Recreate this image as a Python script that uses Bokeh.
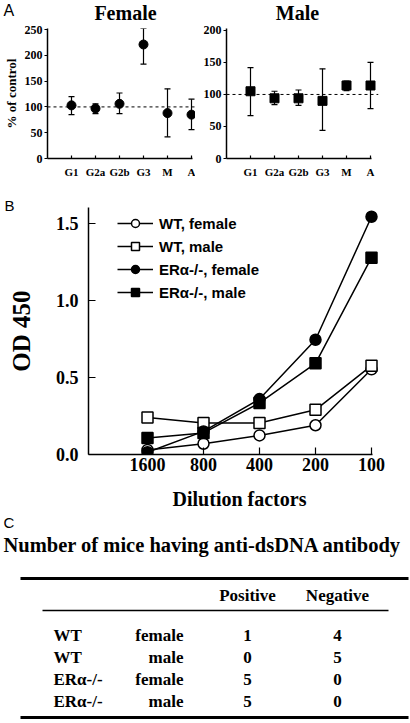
import numpy as np
from bokeh.plotting import figure
from bokeh.models import (Range1d, Span, Whisker, TeeHead, ColumnDataSource, Title,
                          Legend, LegendItem, FixedTicker, NumeralTickFormatter)
from bokeh.layouts import column, row
from bokeh.embed import file_html
from bokeh.resources import INLINE
from bokeh.core.properties import value

SERIF = "Liberation Serif"
SANS = "Liberation Sans"

# ---------------- data ----------------
# Panel A: % of control by isotype
isotypes = ["G1", "G2a", "G2b", "G3", "M", "A"]
female_mean = [103, 97, 106, 221, 88, 85]
female_low = [85, 87, 87, 183, 42, 56]
female_high = [120, 106, 127, 252, 135, 115]
male_mean = [105, 94, 94, 90, 114, 114]
male_low = [67, 84, 83, 44, 106, 78]
male_high = [142, 105, 107, 140, 121, 150]
female_yticks = [0, 50, 100, 150, 200, 250]
male_yticks = [0, 50, 100, 150, 200]
panel_titles = ["A", "Female", "Male"]

# Panel B: OD 450 by dilution factor
dilutions = ["1600", "800", "400", "200", "100"]
wt_female = [0.03, 0.07, 0.124, 0.19, 0.553]
wt_male = [0.24, 0.205, 0.205, 0.29, 0.577]
ko_female = [0.015, 0.15, 0.36, 0.745, 1.544]
ko_male = [0.107, 0.14, 0.335, 0.592, 1.278]
od_ticks = [0.0, 0.5, 1.0, 1.5]

# Panel C: table
table_title = "Number of mice having anti-dsDNA antibody"
table_headers = ["Positive", "Negative"]
genotypes = ["WT", "WT", "ERα-/-", "ERα-/-"]
sexes = ["female", "male", "female", "male"]
positive = [1, 0, 5, 5]
negative = [4, 5, 0, 0]

TOTAL_W = 410


def style_axis(ax, size, tick_in=0, tick_out=3, standoff=2):
    ax.axis_line_width = 1.5
    ax.axis_line_color = "black"
    ax.major_tick_line_width = 1.2
    ax.major_tick_line_color = "black"
    ax.major_tick_in = tick_in
    ax.major_tick_out = tick_out
    ax.minor_tick_line_color = None
    ax.major_label_text_font = SERIF
    ax.major_label_text_font_style = "bold"
    ax.major_label_text_font_size = size
    ax.major_label_text_color = "black"
    ax.major_label_standoff = standoff
    ax.axis_label_text_color = "black"
    ax.axis_label_text_font = SERIF
    ax.axis_label_text_font_style = "bold"


def base_fig(width, height, xr, yr, left, right, top, bottom, axes=True):
    kw = {} if axes else dict(x_axis_type=None, y_axis_type=None)
    p = figure(width=width, height=height, x_range=xr, y_range=yr,
               output_backend="svg", toolbar_location=None,
               min_border_left=left, min_border_right=right,
               min_border_top=top, min_border_bottom=bottom, **kw)
    p.outline_line_color = None
    p.xgrid.visible = False
    p.ygrid.visible = False
    p.background_fill_color = "white"
    p.border_fill_color = "white"
    return p


# ---------------- title strip for panel A ----------------
STRIP_H = 24
pS = base_fig(TOTAL_W, STRIP_H, Range1d(0, TOTAL_W), Range1d(STRIP_H, 0), 0, 0, 0, 0, axes=False)
pS.text(x=[3], y=[10], text=[panel_titles[0]], text_align="left", text_baseline="middle",
        text_font=value(SANS), text_font_size="16px", text_color="black")
pS.text(x=[125, 297], y=[12.5, 12.5], text=panel_titles[1:], text_align="center",
        text_baseline="middle", text_font=value(SERIF), text_font_style="bold",
        text_font_size="20px", text_color="black")

A_H = 156


def panel_a(width, left, right, xend, bound, yend, yticks, means, lows, highs,
            marker, ylabel=None):
    p = base_fig(width, A_H, Range1d(0, xend), Range1d(0, yend), left, right, 4, 22)
    xs = list(range(1, len(isotypes) + 1))
    src = ColumnDataSource(dict(x=xs, m=means, lo=lows, hi=highs))
    p.add_layout(Span(location=100, dimension="width", line_dash="3 3",
                      line_width=1, line_color="black"))
    p.add_layout(Whisker(source=src, base="x", lower="lo", upper="hi",
                         dimension="height", line_width=1.2, line_color="black",
                         upper_head=TeeHead(size=6, line_width=1.2),
                         lower_head=TeeHead(size=6, line_width=1.2)))
    p.scatter("x", "m", source=src, marker=marker, size=9, color="black")
    p.xaxis.ticker = FixedTicker(ticks=xs)
    p.xaxis.major_label_overrides = {x: t for x, t in zip(xs, isotypes)}
    p.xaxis.bounds = (0, bound)
    style_axis(p.xaxis[0], "11px", tick_in=3, tick_out=0, standoff=7)
    p.yaxis.ticker = FixedTicker(ticks=yticks)
    style_axis(p.yaxis[0], "12px", tick_in=0, tick_out=3, standoff=2)
    if ylabel:
        p.yaxis.axis_label = ylabel
        p.yaxis.axis_label_text_font_size = "13px"
        p.yaxis.axis_label_standoff = 3
    return p


fA = panel_a(195, 47, 0, 148 / 24, 6.05, 252, female_yticks, female_mean,
             female_low, female_high, "circle", "% of control")
fM = panel_a(215, 31, 32, 152 / 24, 6.04, 203, male_yticks, male_mean,
             male_low, male_high, "square")

# ---------------- Panel B ----------------
B_H = 332
x0 = 1 - (147 - 88) / 56
pB = base_fig(TOTAL_W, B_H, Range1d(x0, x0 + 302 / 56), Range1d(0, 1.604), 88, 20, 27, 58)
xd = list(range(1, len(dilutions) + 1))
series = [
    ("WT, female", wt_female, "circle", "white"),
    ("WT, male", wt_male, "square", "white"),
    ("ERα-/-, female", ko_female, "circle", "black"),
    ("ERα-/-, male", ko_male, "square", "black"),
]
items = []
for name, ys, mk, fill in series:
    lr = pB.line(xd, ys, line_color="black", line_width=1.5)
    sr = pB.scatter(xd, ys, marker=mk, size=11, fill_color=fill,
                    line_color="black", line_width=1.5)
    items.append(LegendItem(label=name, renderers=[lr, sr]))
legend = Legend(items=items, location=(29, 152), padding=0, margin=0, spacing=3,
                glyph_width=36, glyph_height=20, label_standoff=6, label_height=20,
                label_text_font=SANS, label_text_font_style="bold",
                label_text_font_size="15px", label_text_color="black",
                background_fill_alpha=0, border_line_alpha=0)
pB.add_layout(legend)
pB.xaxis.ticker = FixedTicker(ticks=xd)
pB.xaxis.major_label_overrides = {x: t for x, t in zip(xd, dilutions)}
pB.xaxis.bounds = (x0, 5.02)
style_axis(pB.xaxis[0], "18px", tick_in=7, tick_out=0, standoff=3)
pB.xaxis.axis_label = "Dilution factors"
pB.xaxis.axis_label_text_font_size = "20px"
pB.xaxis.axis_label_standoff = 14
pB.yaxis.ticker = FixedTicker(ticks=od_ticks)
pB.yaxis.formatter = NumeralTickFormatter(format="0.0")
style_axis(pB.yaxis[0], "18px", tick_in=7, tick_out=0, standoff=10)
pB.yaxis.axis_label = "OD 450"
pB.yaxis.axis_label_text_font_size = "25px"
pB.yaxis.axis_label_standoff = 18
pB.add_layout(Title(text="B", align="left", offset=4 - 88, standoff=-12,
                    text_font=SANS, text_font_style="normal",
                    text_font_size="15px", text_color="black"), "above")

# ---------------- Panel C (table) ----------------
H = 723 - A_H - STRIP_H - B_H
pC = base_fig(TOTAL_W, H, Range1d(0, TOTAL_W), Range1d(H, 0), 0, 0, 0, 0, axes=False)

COL_GENO, COL_SEX, COL_POS, COL_NEG = 53, 183, 247, 337
ROW0, PITCH = 123, 22
HEAD_Y, TITLE_Y = 83, 32
rows_y = [ROW0 + i * PITCH for i in range(len(genotypes))]

common = dict(text_baseline="middle", text_font=value(SERIF),
              text_font_style="bold", text_color="black")
pC.text(x=[3], y=[10], text=["C"], text_align="left", text_baseline="middle",
        text_font=value(SANS), text_font_size="15px", text_color="black")
pC.text(x=[202], y=[TITLE_Y], text=[table_title], text_align="center",
        text_font_size="20.5px", **common)
pC.text(x=[COL_POS, COL_NEG], y=[HEAD_Y, HEAD_Y], text=table_headers,
        text_align="center", text_font_size="17px", **common)
pC.text(x=[COL_GENO] * 4, y=rows_y, text=genotypes, text_align="left",
        text_font_size="17px", **common)
pC.text(x=[COL_SEX] * 4, y=rows_y, text=sexes, text_align="right",
        text_font_size="17px", **common)
pC.text(x=[COL_POS] * 4, y=rows_y, text=[str(v) for v in positive],
        text_align="center", text_font_size="17px", **common)
pC.text(x=[COL_NEG] * 4, y=rows_y, text=[str(v) for v in negative],
        text_align="center", text_font_size="17px", **common)
pC.segment(x0=[20, 42, 20], y0=[66, 98, 205], x1=[408, 388, 408], y1=[66, 98, 205],
           line_color="black", line_width=[3, 1.5, 3])

layout = column(row(pS), row(fA, fM), row(pB), row(pC))
open("out.html", "w").write(file_html(layout, INLINE))
